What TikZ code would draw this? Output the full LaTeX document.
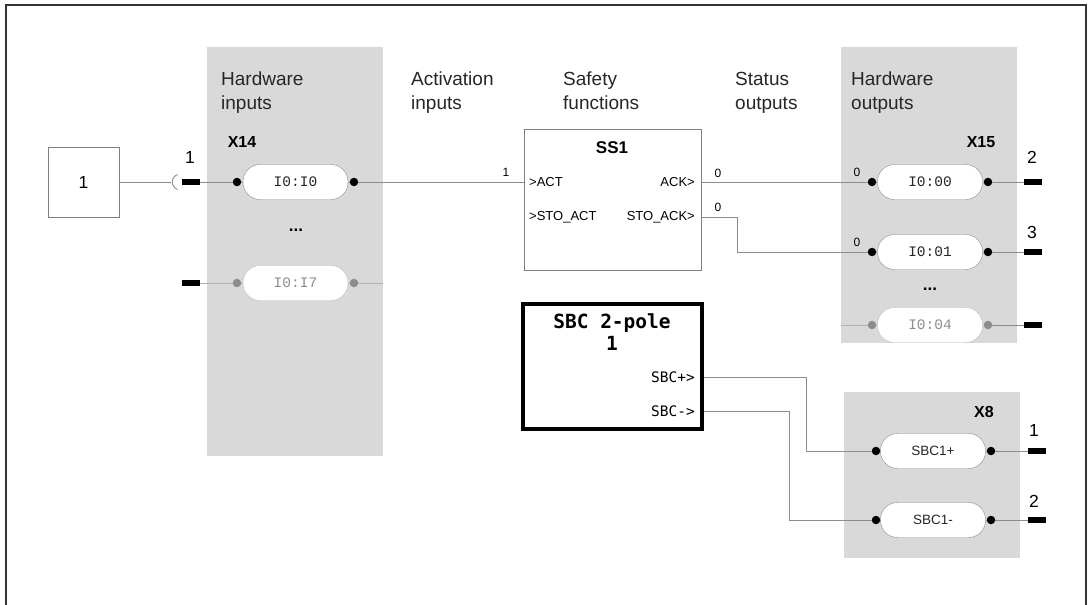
\documentclass[tikz,border=0pt]{standalone}
\usepackage{fontspec}
\setmainfont{Liberation Sans}
\newfontfamily\pillfont{Liberation Mono}
\newfontfamily\dmono{DejaVu Sans Mono}
\begin{document}
\begin{tikzpicture}[x=1pt,y=-1pt,
  frame/.style={draw=black!80,line width=1.5pt},
  graybg/.style={fill=black!15,draw=none},
  wire/.style={draw=black!45,line width=0.8pt},
  fwire/.style={draw=black!30,line width=0.8pt},
  pill/.style={draw=black!45,fill=white,rounded corners=17pt,minimum width=105pt,minimum height=35pt,inner sep=0pt,text=black!85,font=\pillfont\fontsize{14.5}{14.5}\selectfont},
  fpill/.style={pill,draw=black!25,text=black!45},
  spill/.style={pill,font=\fontsize{13.5}{13.5}\selectfont},
  dotn/.style={circle,fill=black,minimum size=8.5pt,inner sep=0pt},
  fdot/.style={dotn,fill=black!45},
  term/.style={rectangle,fill=black,minimum width=18pt,minimum height=6pt,inner sep=0pt},
  head/.style={anchor=north west,align=left,inner sep=0pt,text=black!85,font=\fontsize{19}{24}\selectfont},
  xlab/.style={inner sep=0pt,font=\bfseries\fontsize{16}{16}\selectfont},
  tlab/.style={inner sep=0pt,font=\fontsize{17.5}{17.5}\selectfont},
  slab/.style={inner sep=0pt,font=\fontsize{12}{12}\selectfont},
  port/.style={inner sep=0pt,font=\fontsize{13}{13}\selectfont},
  sport/.style={inner sep=0pt,anchor=east,font=\dmono\fontsize{14.5}{14.5}\selectfont},
  ellip/.style={inner sep=0pt,font=\bfseries\fontsize{17}{17}\selectfont}
]
\useasboundingbox (0,0) rectangle (1088,605);
% frame
\draw[frame] (6,606) -- (6,5) -- (1086,5) -- (1086,606);
% gray panels
\fill[graybg] (207,47) rectangle (383,456);
\fill[graybg] (841,47) rectangle (1017,343);
\fill[graybg] (844,392) rectangle (1020,558);
% headings
\node[head] (h1) at (221,72) {Hardware\\inputs};
\node[head] (h2) at (411,72) {Activation\\inputs};
\node[head] (h3) at (563,72) {Safety\\functions};
\node[head] (h4) at (735,72) {Status\\outputs};
\node[head] (h5) at (851,72) {Hardware\\outputs};
% left source box
\node[draw=black!50,line width=0.8pt,minimum width=71pt,minimum height=70pt,inner sep=0pt,font=\fontsize{17.5}{17.5}\selectfont] (src) at (83.5,182) {1};
\coordinate (sock) at (171,182);
\draw[black!45,line width=0.9pt] (177.5,174.5) arc[start angle=110,end angle=250,radius=8pt];
\draw[wire] (src.east) -- (sock);
% hardware inputs X14
\node[xlab] (x14) at (242,142) {X14};
\node[term] (ti0) at (191,182) {};
\node[tlab] (ti0l) at (190,157) {1};
\node[dotn] (di0a) at (237,182) {};
\node[pill] (pi0) at (295.5,182) {I0:I0};
\node[dotn] (di0b) at (354,182) {};
\draw[wire] (ti0) -- (di0a) -- (pi0.west);
\draw[wire] (pi0.east) -- (di0b);
\node[ellip] (e1) at (296,230) {...};
\node[term] (ti7) at (191,283) {};
\node[fdot] (di7a) at (237,283) {};
\node[fpill] (pi7) at (295.5,283) {I0:I7};
\node[fdot] (di7b) at (354,283) {};
\coordinate (i7end) at (383,283);
\draw[fwire] (ti7) -- (di7a) -- (pi7.west);
\draw[fwire] (pi7.east) -- (di7b) -- (i7end);
% SS1
\node[draw=black!50,line width=0.8pt,minimum width=177pt,minimum height=141pt,inner sep=0pt] (ss1) at (612.5,199.5) {};
\node[inner sep=0pt,font=\bfseries\fontsize{17}{17}\selectfont] (ss1t) at (612,148) {SS1};
\node[port,anchor=west] (act) at (529,182) {>ACT};
\node[port,anchor=west] (stoact) at (529,217) {>STO\_ACT};
\node[port,anchor=east] (ack) at (695,182) {ACK>};
\node[port,anchor=east] (stoack) at (695,217) {STO\_ACK>};
\draw[wire] (di0b) -- (di0b -| ss1.west);
\node[slab] (l1) at (506,172) {1};
% hardware outputs X15
\node[xlab] (x15) at (981,142) {X15};
\node[dotn] (do0a) at (872,182) {};
\node[pill] (po0) at (930,182) {I0:00};
\node[dotn] (do0b) at (988,182) {};
\node[term] (to0) at (1033,182) {};
\node[tlab] (to0l) at (1032,157) {2};
\draw[wire] (do0a) -- (po0.west);
\draw[wire] (po0.east) -- (do0b) -- (to0);
\draw[wire] (ack.east -| ss1.east) -- (do0a);
\node[slab] (l2) at (718,173) {0};
\node[slab] (l3) at (857,172) {0};
\node[dotn] (do1a) at (872,252) {};
\node[pill] (po1) at (930,252) {I0:01};
\node[dotn] (do1b) at (988,252) {};
\node[term] (to1) at (1033,252) {};
\node[tlab] (to1l) at (1032,232) {3};
\draw[wire] (do1a) -- (po1.west);
\draw[wire] (po1.east) -- (do1b) -- (to1);
\coordinate (bend1) at (737,217);
\draw[wire] (stoack.east -| ss1.east) -- (bend1) |- (do1a);
\node[slab] (l4) at (718,207) {0};
\node[slab] (l5) at (857,242) {0};
\node[ellip] (e2) at (930,289) {...};
\coordinate (o4start) at (841,325);
\node[fdot] (do4a) at (872,325) {};
\node[fpill] (po4) at (930,325) {I0:04};
\node[fdot] (do4b) at (988,325) {};
\node[term] (to4) at (1033,325) {};
\draw[fwire] (o4start) -- (do4a) -- (po4.west);
\draw[fwire] (po4.east) -- (do4b);
\draw[wire] (do4b) -- (to4);
% SBC box
\node[draw=black,line width=4pt,minimum width=179pt,minimum height=125pt,inner sep=0pt] (sbc) at (612.5,366.5) {};
\node[inner sep=0pt,align=center,font=\dmono\bfseries\fontsize{19.5}{22}\selectfont,anchor=north] (sbct) at (612,313) {SBC 2-pole\\1};
\node[sport] (sbcp) at (695,377) {SBC+>};
\node[sport] (sbcm) at (695,411) {SBC->};
% X8
\node[xlab] (x8) at (984,412) {X8};
\node[dotn] (d8pa) at (876,451) {};
\node[spill] (p8p) at (933,451) {SBC1+};
\node[dotn] (d8pb) at (991,451) {};
\node[term] (t8p) at (1037,451) {};
\node[tlab] (t8pl) at (1034,430) {1};
\draw[wire] (d8pa) -- (p8p.west);
\draw[wire] (p8p.east) -- (d8pb) -- (t8p);
\node[dotn] (d8ma) at (876,520) {};
\node[spill] (p8m) at (933,520) {SBC1-};
\node[dotn] (d8mb) at (991,520) {};
\node[term] (t8m) at (1037,520) {};
\node[tlab] (t8ml) at (1034,501) {2};
\draw[wire] (d8ma) -- (p8m.west);
\draw[wire] (p8m.east) -- (d8mb) -- (t8m);
\coordinate (bendp) at (806,377);
\coordinate (bendm) at (789,411);
\draw[wire] (sbcp.east -| sbc.east) -- (bendp) |- (d8pa);
\draw[wire] (sbcm.east -| sbc.east) -- (bendm) |- (d8ma);
\end{tikzpicture}
\end{document}
